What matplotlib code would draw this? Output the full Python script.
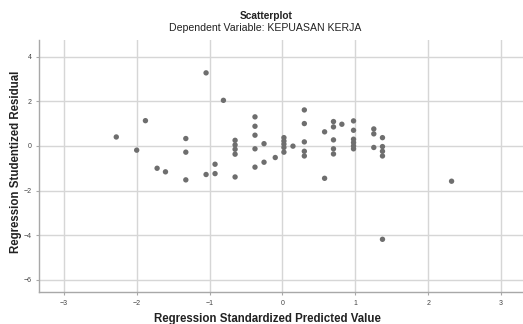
import matplotlib
matplotlib.use("Agg")
from matplotlib import pyplot as plt

# Valores (predito padronizado x resíduo studentizado)
pred_std = [-2.28, -2.00, -1.88, -1.72, -1.605,
            -1.326, -1.326, -1.326, -1.048, -1.048,
            -0.925, -0.925, -0.81,
            -0.65, -0.65, -0.65, -0.65, -0.65,
            -0.377, -0.377, -0.377, -0.377, -0.377,
            -0.253, -0.253, -0.099,
            0.02, 0.02, 0.02, 0.02, 0.02, 0.144,
            0.30, 0.30, 0.30, 0.30, 0.30,
            0.578, 0.578,
            0.70, 0.70, 0.70, 0.70, 0.70, 0.815,
            0.975, 0.975, 0.975, 0.975, 0.975, 0.975,
            1.253, 1.253, 1.253,
            1.372, 1.372, 1.372, 1.372, 1.372,
            2.32]
resid_stud = [0.40, -0.19, 1.13, -1.00, -1.16,
              0.33, -0.28, -1.52, 3.27, -1.28,
              -0.82, -1.24, 2.04,
              0.25, 0.045, -0.15, -0.37, -1.39,
              1.30, 0.88, 0.48, -0.13, -0.95,
              0.10, -0.73, -0.52,
              0.37, 0.22, 0.08, -0.07, -0.28, -0.01,
              1.61, 1.00, 0.18, -0.24, -0.45,
              0.63, -1.45,
              1.09, 0.85, 0.27, -0.13, -0.36, 0.97,
              1.12, 0.70, 0.30, 0.15, 0.00, -0.13,
              0.76, 0.54, -0.07,
              0.37, -0.03, -0.24, -0.45, -4.18,
              -1.58]
x_ticks = [-3, -2, -1, 0, 1, 2, 3]
y_ticks = [-6, -4, -2, 0, 2, 4]

plt.rcParams['font.family'] = ['Liberation Sans', 'DejaVu Sans']

fig = plt.figure(figsize=(5.23, 3.24), dpi=100)
ax = fig.add_axes([0.0746, 0.098, 0.9254, 0.7785])

ax.scatter(pred_std, resid_stud, s=15, color='#6e6e6e', edgecolors='none', zorder=3)

ax.set_xlim(-3.34, 3.3)
ax.set_ylim(-6.55, 4.74)
ax.set_xticks(x_ticks)
ax.set_yticks(y_ticks)
ax.grid(True, color='#d6d6d6', linewidth=1.0, zorder=0)
ax.set_axisbelow(True)

for lado in ['top', 'right']:
    ax.spines[lado].set_visible(False)
for lado in ['left', 'bottom']:
    ax.spines[lado].set_color('#a8a8a8')
    ax.spines[lado].set_linewidth(1.0)

ax.tick_params(axis='both', labelsize=5, colors='#a8a8a8', labelcolor='#444444', length=2, width=0.8)
ax.tick_params(axis='x', pad=3.5)

fig.text(0.509, 0.952, 'Scatterplot', ha='center', va='center', fontsize=7.3, fontweight='bold', color='#222222')
fig.text(0.507, 0.915, 'Dependent Variable: KEPUASAN KERJA', ha='center', va='center', fontsize=7.6, color='#222222')
fig.text(0.511, 0.016, 'Regression Standardized Predicted Value', ha='center', va='center', fontsize=8.3, fontweight='bold', color='#222222')
fig.text(0.03, 0.5, 'Regression Studentized Residual', ha='center', va='center', rotation=90, fontsize=8.3, fontweight='bold', color='#222222')

fig.savefig('out.png', dpi=100)
